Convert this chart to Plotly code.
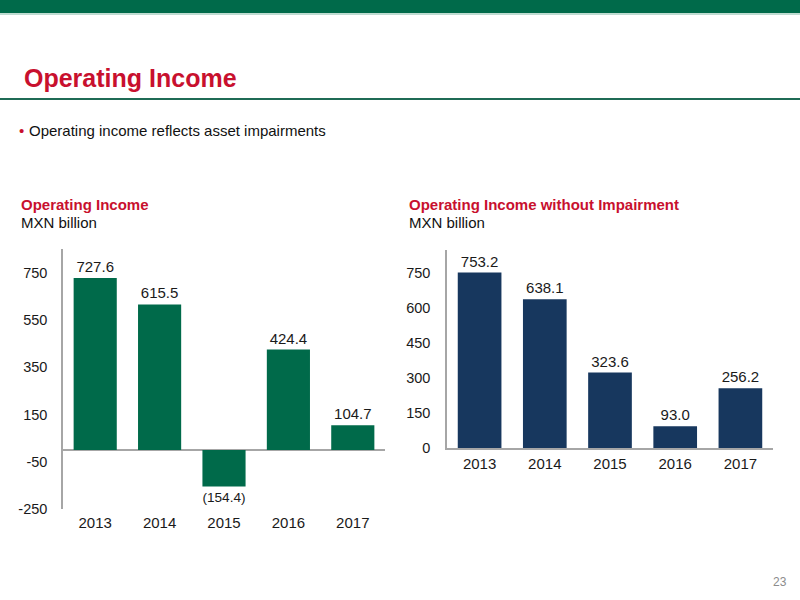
import plotly.graph_objects as go

years = ["2013", "2014", "2015", "2016", "2017"]
op_income = [727.6, 615.5, -154.4, 424.4, 104.7]
op_income_wo_impairment = [753.2, 638.1, 323.6, 93.0, 256.2]
left_ticks = [-250, -50, 150, 350, 550, 750]
right_ticks = [0, 150, 300, 450, 600, 750]

GREEN = "#006a4a"
NAVY = "#17375e"
RED = "#c8102e"
AXIS = "#a6a6a6"
FONT = "Liberation Sans"

def fmt(v):
    return f"({abs(v):.1f})" if v < 0 else f"{v:.1f}"

W, H = 800, 600
FIG_H = 608
def px(x): return x / W
def py(y): return 1 - y / H

fig = go.Figure()
fig.add_trace(go.Bar(
    x=years, y=op_income, marker_color=GREEN, marker_line_width=0,
    text=[fmt(v) for v in op_income], textposition="outside",
    textfont=dict(size=15, color="#1a1a1a", family=FONT),
    cliponaxis=False, xaxis="x", yaxis="y", showlegend=False,
))
fig.add_trace(go.Bar(
    x=years, y=op_income_wo_impairment, marker_color=NAVY, marker_line_width=0,
    text=[fmt(v) for v in op_income_wo_impairment], textposition="outside",
    textfont=dict(size=15, color="#1a1a1a", family=FONT),
    cliponaxis=False, xaxis="x2", yaxis="y2", showlegend=False,
))

xtickfont = dict(size=15, color="#1a1a1a", family=FONT)
ytickfont = dict(size=14.5, color="#1a1a1a", family=FONT)
fig.update_layout(
    width=W, height=FIG_H,
    margin=dict(l=0, r=0, t=0, b=0),
    paper_bgcolor="white", plot_bgcolor="white",
    bargap=0.33,
    font=dict(family=FONT),
    xaxis=dict(domain=[px(63), px(385)], showline=False, showgrid=False,
               ticks="", tickfont=xtickfont, anchor="y", ticklabelstandoff=3),
    yaxis=dict(domain=[py(509), py(249)], range=[-250, 850],
               tickvals=left_ticks, ticktext=[str(v) for v in left_ticks],
               showgrid=False, showline=True,
               linecolor=AXIS, linewidth=1.5, zeroline=True,
               zerolinecolor=AXIS, zerolinewidth=1.5, ticks="",
               ticklabelstandoff=11, tickfont=ytickfont, anchor="x"),
    xaxis2=dict(domain=[px(447), px(773)], showline=True, linecolor=AXIS,
                linewidth=1.5, showgrid=False, ticks="", tickfont=xtickfont,
                anchor="y2", ticklabelstandoff=1),
    yaxis2=dict(domain=[py(448), py(250)], range=[0, 850],
                tickvals=right_ticks, ticktext=[str(v) for v in right_ticks],
                showgrid=False, showline=True,
                linecolor=AXIS, linewidth=1.5, zeroline=False, ticks="",
                ticklabelstandoff=12, tickfont=ytickfont, anchor="x2"),
)

shapes = [
    dict(type="rect", xref="paper", yref="paper", x0=0, x1=1, y0=py(13), y1=1,
         fillcolor=GREEN, line_width=0),
    dict(type="line", xref="paper", yref="paper", x0=0, x1=1, y0=py(14), y1=py(14),
         line=dict(color="#7fb8a3", width=1)),
    dict(type="line", xref="paper", yref="paper", x0=0, x1=1, y0=py(99), y1=py(99),
         line=dict(color="#1f6b55", width=2)),
]
fig.update_layout(shapes=shapes)

def ann(text, x, y, size, color, bold=False, xanchor="left", family=FONT):
    fig.add_annotation(
        text=f"<b>{text}</b>" if bold else text,
        x=px(x), y=py(y), xref="paper", yref="paper",
        xanchor=xanchor, yanchor="middle", showarrow=False,
        font=dict(size=size, color=color, family=family),
    )

ann("Operating Income", 22, 78, 25, RED, bold=True)
ann("•", 17, 131, 15, RED)
ann("Operating income reflects asset impairments", 27, 131, 15, "#111111")
ann("Operating Income", 19, 204, 15, RED, bold=True)
ann("MXN billion", 19, 222, 15, "#111111")
ann("Operating Income without Impairment", 407, 204, 15, RED, bold=True)
ann("MXN billion", 407, 222, 15, "#111111")
ann("23", 789, 582, 12, "#8c8c8c", xanchor="right")

post = (
    "var d=document.documentElement,b=document.body;"
    "d.style.margin='0';d.style.padding='0';d.style.overflow='hidden';"
    "b.style.margin='0';b.style.padding='0';b.style.overflow='hidden';"
)
fig.write_html("out.html", config={"displayModeBar": False}, post_script=post)
